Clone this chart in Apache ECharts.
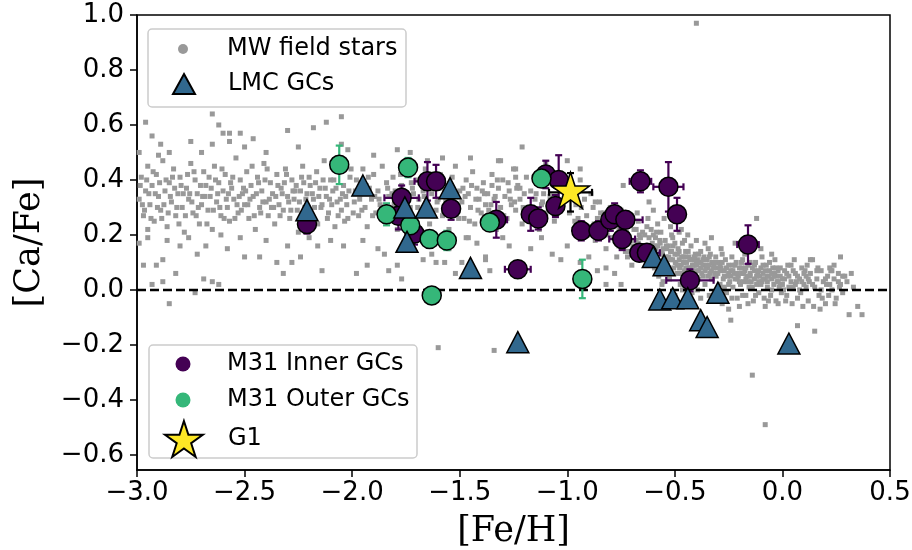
<!DOCTYPE html>
<html>
<head>
<meta charset="utf-8">
<script src="https://cdn.jsdelivr.net/npm/echarts@6/dist/echarts.min.js"></script>
<style>html,body{margin:0;padding:0;background:#fff}#chart{width:912px;height:550px}</style>
</head>
<body>
<div id="chart"></div>
<script>
// ---- axis ticks ----
const xTicks = [-3.0, -2.5, -2.0, -1.5, -1.0, -0.5, 0.0, 0.5];
const yTicks = [-0.6, -0.4, -0.2, 0.0, 0.2, 0.4, 0.6, 0.8, 1.0];

// ---- MW field stars [Fe/H, Ca/Fe] ----
const mwStars = [
[-2.99,0.33],[-2.98,0.41],[-2.97,0.27],[-2.96,0.36],[-2.95,0.22],[-2.95,0.45],[-2.94,0.31],[-2.93,0.38],[-2.92,0.25],[-2.91,0.42],
[-2.9,0.34],[-2.89,0.29],[-2.88,0.47],[-2.87,0.36],[-2.86,0.23],[-2.85,0.39],[-2.84,0.32],[-2.83,0.44],[-2.82,0.27],[-2.81,0.35],
[-2.8,0.41],[-2.79,0.3],[-2.78,0.21],[-2.77,0.37],[-2.76,0.33],[-2.75,0.46],[-2.74,0.28],[-2.73,0.4],[-2.72,0.35],[-2.71,0.24],
[-2.7,0.31],[-2.69,0.43],[-2.68,0.38],[-2.67,0.29],[-2.66,0.34],[-2.65,0.22],[-2.64,0.45],[-2.63,0.32],[-2.62,0.39],[-2.61,0.27],
[-2.6,0.36],[-2.59,0.42],[-2.58,0.3],[-2.57,0.25],[-2.56,0.37],[-2.55,0.33],[-2.54,0.48],[-2.53,0.28],[-2.52,0.4],[-2.51,0.35],
[-2.5,0.31],[-2.49,0.43],[-2.48,0.26],[-2.47,0.38],[-2.46,0.34],[-2.45,0.22],[-2.44,0.41],[-2.43,0.3],[-2.42,0.36],[-2.41,0.46],
[-2.4,0.32],[-2.39,0.27],[-2.38,0.39],[-2.37,0.35],[-2.36,0.24],[-2.35,0.42],[-2.34,0.31],[-2.33,0.37],[-2.32,0.29],[-2.31,0.44],
[-2.3,0.34],[-2.29,0.26],[-2.28,0.4],[-2.27,0.33],[-2.26,0.38],[-2.25,0.21],[-2.24,0.36],[-2.23,0.45],[-2.22,0.3],[-2.21,0.35],
[-2.2,0.41],[-2.19,0.27],[-2.18,0.33],[-2.17,0.39],[-2.16,0.24],[-2.15,0.37],[-2.14,0.31],[-2.13,0.47],[-2.12,0.34],[-2.11,0.28],
[-2.1,0.4],[-2.09,0.36],[-2.08,0.23],[-2.07,0.32],[-2.06,0.43],[-2.05,0.29],[-2.04,0.38],[-2.03,0.34],[-2.02,0.26],[-2.01,0.41],
[-2.985,0.38],[-2.965,0.29],[-2.945,0.35],[-2.925,0.43],[-2.905,0.3],[-2.885,0.26],[-2.865,0.4],[-2.845,0.34],[-2.825,0.37],[-2.805,0.24],
[-2.785,0.35],[-2.765,0.42],[-2.745,0.32],[-2.725,0.27],[-2.705,0.38],[-2.685,0.34],[-2.665,0.41],[-2.645,0.29],[-2.625,0.35],[-2.605,0.44],
[-2.585,0.33],[-2.565,0.39],[-2.545,0.26],[-2.525,0.34],[-2.505,0.37],[-2.485,0.31],[-2.465,0.45],[-2.445,0.35],[-2.425,0.28],[-2.405,0.4],
[-2.385,0.33],[-2.365,0.3],[-2.345,0.38],[-2.325,0.35],[-2.305,0.42],[-2.285,0.29],[-2.265,0.36],[-2.245,0.32],[-2.225,0.39],[-2.205,0.26],
[-2.185,0.35],[-2.165,0.43],[-2.145,0.3],[-2.125,0.37],[-2.105,0.33],[-2.085,0.4],[-2.065,0.27],[-2.045,0.35],[-2.025,0.31],[-2.005,0.44],
[-2.975,0.31],[-2.955,0.4],[-2.935,0.26],[-2.915,0.35],[-2.895,0.39],[-2.875,0.31],[-2.855,0.28],[-2.835,0.41],[-2.815,0.3],[-2.795,0.38],
[-2.775,0.27],[-2.755,0.35],[-2.735,0.43],[-2.715,0.3],[-2.695,0.34],[-2.675,0.24],[-2.655,0.37],[-2.635,0.4],[-2.615,0.3],[-2.595,0.26],
[-2.575,0.35],[-2.555,0.41],[-2.535,0.31],[-2.515,0.29],[-2.495,0.36],[-2.475,0.33],[-2.455,0.27],[-2.435,0.39],[-2.415,0.32],[-2.395,0.44],
[-2.375,0.3],[-2.355,0.34],[-2.335,0.27],[-2.315,0.39],[-2.295,0.32],[-2.275,0.36],[-2.255,0.29],[-2.235,0.41],[-2.215,0.33],[-2.195,0.38],
[-2.175,0.3],[-2.155,0.34],[-2.135,0.4],[-2.115,0.26],[-2.095,0.31],[-2.075,0.37],[-2.055,0.33],[-2.035,0.25],[-2.015,0.36],[-1.995,0.28],
[-2.96,0.61],[-2.93,0.56],[-2.89,0.53],[-2.99,0.5],[-2.65,0.64],[-2.62,0.6],[-2.6,0.57],[-2.57,0.57],[-2.52,0.57],[-2.75,0.54],
[-2.65,0.53],[-2.57,0.54],[-2.5,0.52],[-2.46,0.55],[-2.3,0.58],[-2.18,0.59],[-2.12,0.61],[-2.05,0.63],[-2.02,0.51],[-2.85,0.5],
[-2.4,0.5],[-2.25,0.52],[-2.9,0.49],[-2.7,0.5],
[-2.97,0.09],[-2.91,0.09],[-2.93,0.02],[-2.88,0.03],[-2.82,0.06],[-2.85,-0.05],[-2.73,-0.01],[-2.69,0.04],[-2.65,0.03],[-2.62,0.02],
[-2.88,0.11],[-2.72,0.13],[-2.5,0.12],[-2.43,0.12],[-2.35,0.1],[-2.32,0.06],[-2.28,0.1],[-2.24,0.12],[-2.14,0.07],[-2.16,0.16],
[-2.04,0.16],[-2.68,0.16],[-2.8,0.16],[-2.99,0.17],[-2.86,0.18],[-2.52,0.19],[-2.61,0.2],[-2.95,0.19],[-2.4,0.18],[-2.2,0.19],
[-2.1,0.18],[-2.58,0.15],[-2.76,0.19],[-2.3,0.16],
[-1.99,0.32],[-1.98,0.4],[-1.97,0.27],[-1.96,0.35],[-1.95,0.44],[-1.94,0.3],[-1.93,0.23],[-1.92,0.37],[-1.91,0.33],[-1.9,0.42],
[-1.89,0.28],[-1.88,0.36],[-1.87,0.31],[-1.86,0.45],[-1.85,0.25],[-1.84,0.39],[-1.83,0.34],[-1.82,0.29],[-1.81,0.41],[-1.8,0.36],
[-1.79,0.22],[-1.78,0.32],[-1.77,0.38],[-1.76,0.27],[-1.75,0.43],[-1.74,0.34],[-1.73,0.3],[-1.72,0.37],[-1.71,0.25],[-1.7,0.4],
[-1.69,0.33],[-1.68,0.28],[-1.67,0.36],[-1.66,0.44],[-1.65,0.31],[-1.64,0.24],[-1.63,0.35],[-1.62,0.39],[-1.61,0.29],[-1.6,0.33],
[-1.59,0.42],[-1.58,0.27],[-1.57,0.36],[-1.56,0.31],[-1.55,0.22],[-1.54,0.38],[-1.53,0.34],[-1.52,0.45],[-1.51,0.29],[-1.5,0.36],
[-1.49,0.32],[-1.48,0.26],[-1.47,0.4],[-1.46,0.35],[-1.45,0.3],[-1.44,0.43],[-1.43,0.24],[-1.42,0.37],[-1.41,0.33],[-1.4,0.28],
[-1.39,0.39],[-1.38,0.31],[-1.37,0.35],[-1.36,0.27],[-1.35,0.42],[-1.34,0.33],[-1.33,0.22],[-1.32,0.37],[-1.31,0.3],[-1.3,0.4],
[-1.29,0.34],[-1.28,0.26],[-1.27,0.36],[-1.26,0.31],[-1.25,0.44],[-1.24,0.29],[-1.23,0.38],[-1.22,0.33],[-1.21,0.24],[-1.2,0.35],
[-1.19,0.41],[-1.18,0.3],[-1.17,0.36],[-1.16,0.27],[-1.15,0.33],[-1.14,0.39],[-1.13,0.22],[-1.12,0.31],[-1.11,0.35],[-1.1,0.28],
[-1.08,0.34],[-1.06,0.25],[-1.05,0.38],[-1.03,0.3],[-1.01,0.33],
[-1.985,0.36],[-1.955,0.29],[-1.925,0.41],[-1.895,0.34],[-1.865,0.26],[-1.835,0.37],[-1.805,0.31],[-1.775,0.42],[-1.745,0.28],[-1.715,0.35],
[-1.685,0.39],[-1.655,0.3],[-1.625,0.27],[-1.595,0.37],[-1.565,0.33],[-1.535,0.41],[-1.505,0.26],[-1.475,0.34],[-1.445,0.38],[-1.415,0.29],
[-1.385,0.35],[-1.355,0.31],[-1.325,0.4],[-1.295,0.27],[-1.265,0.33],[-1.235,0.37],[-1.205,0.3],[-1.175,0.25],[-1.145,0.35],[-1.115,0.32],
[-1.965,0.33],[-1.935,0.38],[-1.905,0.27],[-1.875,0.33],[-1.845,0.3],[-1.815,0.35],[-1.785,0.26],[-1.755,0.32],[-1.725,0.39],[-1.695,0.3],
[-1.665,0.34],[-1.635,0.41],[-1.605,0.32],[-1.575,0.29],[-1.545,0.35],[-1.515,0.31],[-1.485,0.37],[-1.455,0.25],[-1.425,0.33],[-1.395,0.36],
[-1.365,0.29],[-1.335,0.34],[-1.305,0.26],[-1.275,0.39],[-1.245,0.32],
[-2.05,0.53],[-1.79,0.51],[-1.73,0.5],[-1.58,0.48],[-1.35,0.38],[-1.32,0.47],[-1.21,0.52],[-1.31,0.47],[-1.24,0.44],[-1.24,0.41],
[-1.22,0.37],[-1.9,0.49],[-1.65,0.47],[-1.45,0.48],[-1.1,0.46],[-0.94,0.44],[-1.0,0.47],
[-1.98,0.06],[-1.93,0.09],[-1.83,0.07],[-1.79,0.09],[-1.77,0.04],[-1.67,0.11],[-1.61,0.1],[-1.63,0.13],[-1.57,0.1],[-1.49,0.1],
[-1.38,0.11],[-1.36,0.07],[-1.47,0.19],[-1.46,0.19],[-1.38,0.12],[-1.27,0.16],[-1.17,0.15],[-1.07,0.13],[-1.03,0.11],[-1.0,0.16],
[-1.88,0.15],[-1.72,0.17],[-1.55,0.15],[-1.95,0.18],[-1.42,0.17],[-1.3,0.19],[-1.12,0.19],[-1.6,-0.21],[-1.34,-0.22],[-1.85,0.13],[-1.52,0.06],
[-0.99,0.28],[-0.98,0.36],[-0.97,0.22],[-0.96,0.31],[-0.95,0.26],[-0.94,0.4],[-0.93,0.19],[-0.92,0.33],[-0.91,0.27],[-0.9,0.23],
[-0.89,0.35],[-0.88,0.3],[-0.87,0.18],[-0.86,0.26],[-0.85,0.32],[-0.84,0.21],[-0.83,0.28],[-0.82,0.15],[-0.81,0.24],[-0.8,0.3],
[-0.79,0.19],[-0.78,0.26],[-0.77,0.12],[-0.76,0.22],[-0.75,0.29],[-0.74,0.17],[-0.73,0.24],[-0.72,0.2],[-0.71,0.14],[-0.7,0.27],
[-0.69,0.22],[-0.68,0.18],[-0.67,0.25],[-0.66,0.11],[-0.65,0.21],[-0.64,0.16],[-0.63,0.23],[-0.62,0.19],[-0.61,0.13],[-0.6,0.2],
[-0.965,0.25],[-0.935,0.3],[-0.905,0.2],[-0.875,0.24],[-0.845,0.28],[-0.815,0.2],[-0.785,0.23],[-0.755,0.18],[-0.725,0.21],[-0.695,0.16],
[-0.665,0.2],[-0.635,0.14],[-0.605,0.17],[-0.87,0.32],[-0.82,0.08],[-0.82,0.02],[-0.75,0.02],[-0.7,0.09],[-0.72,0.12],[-0.74,0.38],
[-0.62,0.32],[-0.6,0.29],[-0.94,0.1],[-0.9,0.12],[-0.86,0.07],[-0.78,0.06],
[-0.79,0.23],[-0.77,0.28],[-0.76,0.16],[-0.74,0.21],[-0.73,0.14],[-0.71,0.24],[-0.7,0.18],[-0.69,0.13],[-0.68,0.22],[-0.67,0.17],
[-0.66,0.19],[-0.65,0.13],[-0.64,0.2],[-0.63,0.1],[-0.62,0.15],[-0.61,0.22],[-0.6,0.11],[-0.59,0.16],[-0.58,0.07],[-0.57,0.18],
[-0.6,0.14],[-0.595,0.08],[-0.59,0.19],[-0.585,0.11],[-0.58,0.16],[-0.575,0.05],[-0.57,0.13],[-0.565,0.21],[-0.56,0.1],[-0.555,0.15],
[-0.55,0.07],[-0.545,0.18],[-0.54,0.12],[-0.535,0.09],[-0.53,0.16],[-0.525,0.04],[-0.52,0.11],[-0.515,0.14],[-0.51,0.19],[-0.505,0.08],
[-0.5,0.13],[-0.495,0.1],[-0.49,0.06],[-0.485,0.15],[-0.48,0.11],[-0.475,0.02],[-0.47,0.09],[-0.465,0.17],[-0.46,0.12],[-0.455,0.07],
[-0.45,0.14],[-0.445,0.1],[-0.44,0.05],[-0.435,0.12],[-0.43,0.08],[-0.425,0.16],[-0.42,0.11],[-0.415,0.03],[-0.41,0.09],[-0.405,0.13],
[-0.4,0.07],[-0.395,0.11],[-0.39,0.04],[-0.385,0.1],[-0.38,0.14],[-0.375,0.06],[-0.37,0.09],[-0.365,0.12],[-0.36,0.02],[-0.355,0.08],
[-0.35,0.11],[-0.345,0.05],[-0.34,0.09],[-0.335,0.13],[-0.33,0.07],[-0.325,0.04],[-0.32,0.1],[-0.315,0.06],[-0.31,0.12],[-0.305,0.08],
[-0.598,0.11],[-0.588,0.15],[-0.578,0.09],[-0.568,0.17],[-0.558,0.13],[-0.548,0.1],[-0.538,0.15],[-0.528,0.12],[-0.518,0.07],[-0.508,0.16],
[-0.498,0.1],[-0.488,0.13],[-0.478,0.08],[-0.468,0.12],[-0.458,0.1],[-0.448,0.08],[-0.438,0.14],[-0.428,0.06],[-0.418,0.09],[-0.408,0.11],
[-0.398,0.09],[-0.388,0.07],[-0.378,0.1],[-0.368,0.05],[-0.358,0.11],[-0.348,0.08],[-0.338,0.06],[-0.328,0.1],[-0.318,0.09],[-0.308,0.05],
[-0.56,0.14],[-0.55,0.11],[-0.54,0.16],[-0.53,0.08],[-0.52,0.14],[-0.51,0.11],[-0.5,0.17],[-0.49,0.09],[-0.48,0.14],[-0.47,0.06],
[-0.46,0.1],[-0.45,0.12],[-0.44,0.08],[-0.43,0.11],[-0.42,0.07],[-0.41,0.12],[-0.4,0.1],[-0.39,0.13],[-0.38,0.08],[-0.37,0.11],
[-0.36,0.07],[-0.35,0.09],[-0.34,0.12],[-0.33,0.04],[-0.32,0.08],[-0.31,0.1],
[-0.58,0.24],[-0.55,0.26],[-0.52,0.23],[-0.47,0.22],[-0.44,0.2],[-0.4,0.18],[-0.36,0.17],[-0.33,0.19],[-0.5,-0.02],[-0.45,-0.04],
[-0.42,-0.01],[-0.38,-0.03],[-0.34,-0.02],[-0.31,-0.04],[-0.48,0.21],[-0.56,0.02],
[-0.455,0.18],[-0.515,0.2],[-0.585,0.21],[-0.625,0.26],[-0.675,0.28],[-0.555,0.03],[-0.465,0.0],[-0.395,0.0],[-0.345,0.15],[-0.285,0.15],
[-0.3,0.06],[-0.295,0.1],[-0.29,0.02],[-0.285,0.08],[-0.28,0.13],[-0.275,0.04],[-0.27,0.07],[-0.265,0.11],[-0.26,-0.01],[-0.255,0.05],
[-0.25,0.09],[-0.245,0.03],[-0.24,0.07],[-0.235,0.12],[-0.23,0.01],[-0.225,0.06],[-0.22,0.04],[-0.215,0.1],[-0.21,-0.03],[-0.205,0.05],
[-0.2,0.08],[-0.195,0.02],[-0.19,0.06],[-0.185,0.11],[-0.18,0.03],[-0.175,0.07],[-0.17,-0.02],[-0.165,0.05],[-0.16,0.09],[-0.155,0.01],
[-0.15,0.06],[-0.145,0.03],[-0.14,0.08],[-0.135,-0.04],[-0.13,0.04],[-0.125,0.1],[-0.12,0.02],[-0.115,0.06],[-0.11,-0.01],[-0.105,0.05],
[-0.1,0.08],[-0.095,0.03],[-0.09,0.06],[-0.085,-0.03],[-0.08,0.04],[-0.075,0.09],[-0.07,0.01],[-0.065,0.05],[-0.06,0.07],[-0.055,-0.02],
[-0.05,0.04],[-0.045,0.08],[-0.04,0.02],[-0.035,0.06],[-0.03,-0.04],[-0.025,0.03],[-0.02,0.07],[-0.015,0.01],[-0.01,0.05],[-0.005,-0.01],
[-0.29,0.09],[-0.27,0.01],[-0.25,0.06],[-0.23,0.09],[-0.21,0.04],[-0.19,0.08],[-0.17,0.04],[-0.15,0.1],[-0.13,0.07],[-0.11,0.03],
[-0.09,0.09],[-0.07,0.05],[-0.05,0.0],[-0.03,0.05],[-0.01,0.02],[-0.28,-0.05],[-0.2,-0.06],[-0.16,-0.05],[-0.08,-0.06],[-0.02,-0.05],
[-0.29,0.07],[-0.28,0.1],[-0.27,0.05],[-0.26,0.08],[-0.25,0.02],[-0.24,0.05],[-0.23,0.07],[-0.22,0.09],[-0.21,0.06],[-0.2,0.03],
[-0.19,0.1],[-0.18,0.06],[-0.17,0.08],[-0.16,0.03],[-0.15,0.05],[-0.14,0.01],[-0.13,0.09],[-0.12,0.05],[-0.11,0.07],[-0.1,0.02],
[-0.09,0.04],[-0.08,0.07],[-0.07,0.03],[-0.06,0.1],[-0.05,0.06],[-0.04,0.05],[-0.03,0.08],[-0.02,0.03],[-0.01,0.08],
[-0.235,-0.03],[-0.185,-0.02],[-0.125,-0.02],[-0.065,-0.04],[-0.035,0.11],[-0.095,0.12],[-0.175,0.13],
[-0.24,-0.11],[-0.25,-0.07],[-0.14,-0.31],[-0.12,0.26],[-0.08,-0.49],[-0.4,0.97],[-0.22,0.17],[-0.1,0.15],[-0.05,0.13],
[0.0,0.04],[0.01,0.07],[0.02,-0.02],[0.03,0.05],[0.04,0.09],[0.05,0.01],[0.06,0.06],[0.07,-0.03],[0.08,0.04],[0.09,0.08],
[0.1,0.02],[0.11,0.05],[0.12,-0.04],[0.13,0.06],[0.14,0.11],[0.15,0.01],[0.16,0.04],[0.17,-0.02],[0.18,0.07],[0.19,0.03],
[0.2,-0.05],[0.21,0.05],[0.22,0.08],[0.23,0.0],[0.24,0.04],[0.25,-0.03],[0.26,0.06],[0.27,0.02],[0.28,-0.01],[0.3,0.03],
[0.005,0.0],[0.025,0.09],[0.045,-0.05],[0.065,0.03],[0.085,-0.01],[0.105,0.07],[0.125,0.03],[0.145,-0.06],[0.165,0.08],[0.185,-0.03],
[0.205,0.02],[0.225,0.07],[0.245,-0.05],[0.265,0.01],[0.29,0.05],[0.13,0.11],[0.27,0.12],[0.37,-0.09],[0.31,-0.09],[0.33,0.01],
[0.23,0.07],[0.07,-0.13],[0.15,-0.15],[0.35,-0.06],[0.32,0.06],
[0.0,0.02],[0.01,0.04],[0.02,0.06],[0.03,0.01],[0.04,0.03],[0.05,0.07],[0.06,0.02],[0.07,0.05],[0.08,0.0],[0.09,0.03],
[0.1,0.06],[0.11,0.01],[0.12,0.04],[0.14,0.02],[0.16,0.07],[0.18,0.0],[0.2,0.04],[0.22,0.02],[0.24,0.09],[0.26,0.03],
[0.28,0.05],[0.015,-0.04],[0.095,-0.06],[0.175,-0.07],[0.215,-0.02],[0.115,0.09],[0.055,0.11]
];

// ---- LMC GCs ----
const lmcFeH  = [-2.21, -1.95, -1.755, -1.655, -1.745, -1.545, -1.45, -1.23, -0.60, -0.55, -0.57, -0.51, -0.44, -0.30, -0.38, -0.35, 0.03];
const lmcCaFe = [ 0.29,  0.38,  0.30,   0.30,   0.175,  0.37,   0.08, -0.19,  0.12,  0.09, -0.035, -0.03, -0.03, -0.01, -0.11, -0.135, -0.195];

// ---- M31 inner GCs ----
const innerFeH     = [-2.21, -1.785, -1.77, -1.71, -1.65, -1.61, -1.54, -1.33, -1.23, -1.17, -1.135, -1.10, -1.04, -1.055, -0.935, -0.855, -0.80, -0.78, -0.73, -0.745, -0.66, -0.665, -0.63, -0.53, -0.49, -0.43, -0.16];
const innerCaFe    = [ 0.24,  0.27,  0.335, 0.205, 0.395, 0.395, 0.295, 0.255, 0.075, 0.275, 0.26,  0.42,  0.40,  0.305,  0.215,  0.215,  0.255, 0.275, 0.255, 0.185,  0.395, 0.135,  0.135, 0.375, 0.275, 0.035, 0.165];
const innerFeHErr  = [ 0.03,  0.04,  0.08,  0.03,  0.06,  0.04,  0.03,  0.05,  0.06,  0.04,  0.04,   0.03,  0.03,  0.03,   0.03,   0.03,   0.03,  0.03,  0.08,  0.06,   0.05,  0.04,   0.06,  0.07,  0.03,  0.11,  0.05];
const innerCaFeErr = [ 0.035, 0.05,  0.045, 0.04,  0.07,  0.06,  0.04,  0.065, 0.03,  0.06,  0.04,   0.05,  0.09,  0.04,   0.035,  0.035,  0.04,  0.04,  0.03,  0.04,   0.04,  0.03,   0.03,  0.09,  0.06,  0.04,  0.07];

// ---- M31 outer GCs ----
const outerFeH     = [-2.06, -1.84, -1.74, -1.73, -1.64, -1.56, -1.63, -1.36, -1.12, -0.93];
const outerCaFe    = [ 0.455, 0.275, 0.445, 0.235, 0.185, 0.18, -0.02, 0.245, 0.405, 0.04];
const outerFeHErr  = [ 0.015, 0.015, 0.015, 0.015, 0.015, 0.015, 0.015, 0.015, 0.015, 0.015];
const outerCaFeErr = [ 0.07,  0.04,  0.035, 0.03,  0.03,  0.035, 0.01,  0.03,  0.03,  0.07];

// ---- G1 ----
const g1FeH = [-0.985];
const g1CaFe = [0.355];
const g1FeHErr = [0.10];
const g1CaFeErr = [0.07];

const C_LMC = '#31688e', C_IN = '#440154', C_OUT = '#35b779', C_G1 = '#fde725', C_MW = '#999999';
const STAR = 'path://M100,0 L122.45,69.1 L195.1,69.1 L136.33,111.8 L158.78,180.9 L100,138.2 L41.22,180.9 L63.67,111.8 L4.9,69.1 L77.55,69.1 Z';
const FONT = 'DejaVu Sans';

const zip = (a, b) => a.map((v, i) => [v, b[i]]);
const zipErr = (a, b, c, d) => a.map((v, i) => [v, b[i], c[i], d[i]]);
const fmt = v => (v < 0 ? '\u2212' : '') + Math.abs(v).toFixed(1);

function errBars(color) {
  return function (params, api) {
    const x = api.value(0), y = api.value(1), xe = api.value(2), ye = api.value(3);
    const cap = 3.5;
    const l = api.coord([x - xe, y]), r = api.coord([x + xe, y]);
    const t = api.coord([x, y + ye]), b = api.coord([x, y - ye]);
    const st = { stroke: color, lineWidth: 2.2 };
    const line = (x1, y1, x2, y2) => ({ type: 'line', shape: { x1, y1, x2, y2 }, style: st });
    return { type: 'group', children: [
      line(l[0], l[1], r[0], r[1]),
      line(l[0], l[1] - cap, l[0], l[1] + cap),
      line(r[0], r[1] - cap, r[0], r[1] + cap),
      line(t[0], t[1], b[0], b[1]),
      line(t[0] - cap, t[1], t[0] + cap, t[1]),
      line(b[0] - cap, b[1], b[0] + cap, b[1])
    ]};
  };
}

const chart = echarts.init(document.getElementById('chart'), null, { renderer: 'canvas' });
const TEXT_X = 227, ICON_CX = 183;
function legendRow(name, w, h, cy, extra) {
  return {
    left: ICON_CX - w / 2, top: cy - Math.max(h, 24) / 2,
    itemWidth: w, itemHeight: h, padding: 0, selectedMode: false, z: 20,
    textStyle: { fontFamily: FONT, fontSize: 24, color: '#000', padding: [0, 0, 0, TEXT_X - (ICON_CX + w / 2 + 5)] },
    data: [Object.assign({ name: name }, extra || {})]
  };
}

chart.setOption({
  animation: false,
  backgroundColor: '#fff',
  grid: { left: 137, right: 22, top: 15, bottom: 80, containLabel: false, outerBoundsMode: 'none',
          show: true, borderColor: '#000', borderWidth: 1.5, backgroundColor: 'transparent' },
  xAxis: {
    type: 'value', min: -3.0, max: 0.5, interval: 0.5,
    axisLine: { show: true, onZero: false, lineStyle: { color: '#000', width: 1.5 } },
    axisTick: { show: true, length: 7, lineStyle: { color: '#000', width: 1.5 } },
    axisLabel: { fontFamily: FONT, fontSize: 26, color: '#000', margin: 10, formatter: fmt, showMinLabel: true, showMaxLabel: true },
    splitLine: { show: false },
    name: '[Fe/H]', nameLocation: 'middle', nameGap: 44,
    nameTextStyle: { fontFamily: 'DejaVu Serif', fontSize: 35, color: '#000' }
  },
  yAxis: {
    type: 'value', min: -0.655, max: 1.0,
    axisLine: { show: true, onZero: false, lineStyle: { color: '#000', width: 1.5 } },
    axisTick: { show: true, length: 7, customValues: yTicks, lineStyle: { color: '#000', width: 1.5 } },
    axisLabel: { fontFamily: FONT, fontSize: 26, color: '#000', margin: 13, customValues: yTicks, formatter: fmt },
    splitLine: { show: false },
    name: '[Ca/Fe]', nameLocation: 'middle', nameGap: 90, nameRotate: 90,
    nameTextStyle: { fontFamily: 'DejaVu Serif', fontSize: 35, color: '#000' }
  },
  legend: [
    legendRow('MW field stars', 10, 10, 49, { icon: 'circle' }),
    legendRow('LMC GCs', 22, 20, 84),
    legendRow('M31 Inner GCs', 15, 15, 364, { itemStyle: { borderWidth: 0 } }),
    legendRow('M31 Outer GCs', 15, 15, 400, { itemStyle: { borderWidth: 0 } }),
    legendRow('G1', 38, 36, 438)
  ],
  graphic: [
    { type: 'rect', z: 10, shape: { x: 148, y: 29, width: 258, height: 78, r: 4 }, style: { fill: 'rgba(255,255,255,0.85)', stroke: '#cccccc', lineWidth: 1.5 } },
    { type: 'rect', z: 10, shape: { x: 149, y: 345, width: 268, height: 113, r: 4 }, style: { fill: 'rgba(255,255,255,0.85)', stroke: '#cccccc', lineWidth: 1.5 } }
  ],
  series: [
    { name: 'MW field stars', type: 'scatter', z: 1, symbol: 'rect', symbolSize: 5, itemStyle: { color: C_MW, opacity: 1 }, data: mwStars, silent: true },
    { name: 'zero', type: 'line', z: 2, showSymbol: false, data: [[-3.0, 0], [0.5, 0]], lineStyle: { color: '#000', width: 2.5, type: [9, 4] }, silent: true },
    { name: 'M31 Inner GCs err', type: 'custom', z: 3, renderItem: errBars(C_IN), encode: { x: 0, y: 1 }, data: zipErr(innerFeH, innerCaFe, innerFeHErr, innerCaFeErr), silent: true },
    { name: 'M31 Inner GCs', type: 'scatter', z: 4, symbol: 'circle', symbolSize: 19, itemStyle: { color: C_IN, opacity: 1, borderColor: '#000', borderWidth: 1.5 }, data: zip(innerFeH, innerCaFe) },
    { name: 'M31 Outer GCs err', type: 'custom', z: 5, renderItem: errBars(C_OUT), encode: { x: 0, y: 1 }, data: zipErr(outerFeH, outerCaFe, outerFeHErr, outerCaFeErr), silent: true },
    { name: 'M31 Outer GCs', type: 'scatter', z: 6, symbol: 'circle', symbolSize: 19, itemStyle: { color: C_OUT, opacity: 1, borderColor: '#000', borderWidth: 1.5 }, data: zip(outerFeH, outerCaFe) },
    { name: 'LMC GCs', type: 'scatter', z: 7, symbol: 'triangle', symbolSize: [22, 21], itemStyle: { color: C_LMC, opacity: 1, borderColor: '#000', borderWidth: 1.5 }, data: zip(lmcFeH, lmcCaFe) },
    { name: 'G1 err', type: 'custom', z: 8, renderItem: errBars('#000'), encode: { x: 0, y: 1 }, data: zipErr(g1FeH, g1CaFe, g1FeHErr, g1CaFeErr), silent: true },
    { name: 'G1', type: 'scatter', z: 9, symbol: STAR, symbolSize: [38, 36], symbolOffset: [0, -2], itemStyle: { color: C_G1, opacity: 1, borderColor: '#000', borderWidth: 1.5 }, data: zip(g1FeH, g1CaFe) }
  ]
});
</script>
</body>
</html>
